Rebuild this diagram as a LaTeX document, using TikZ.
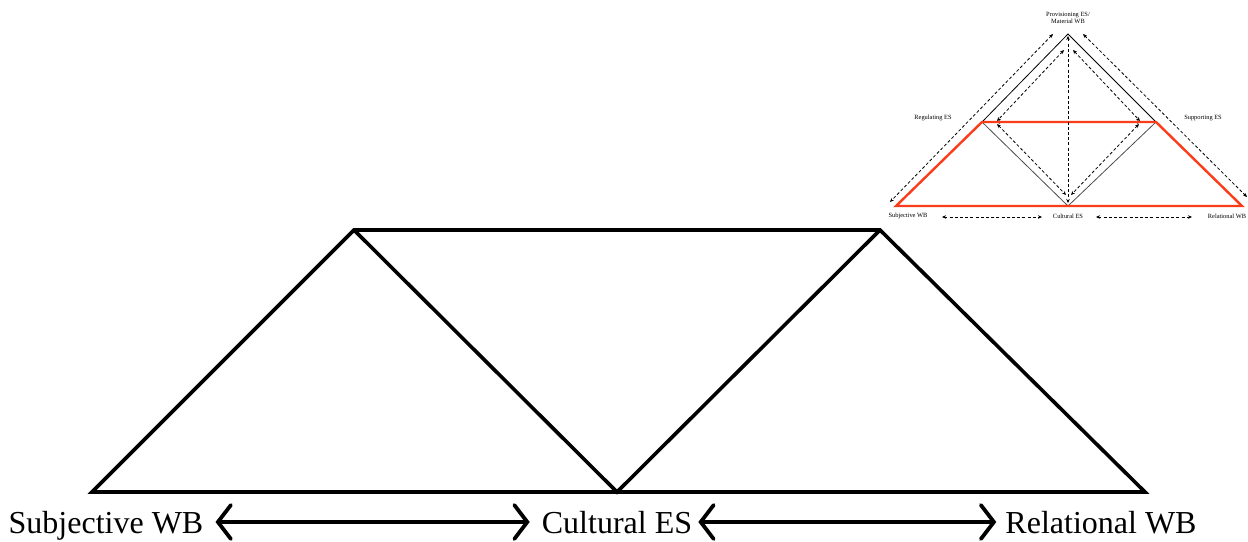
\documentclass[tikz,border=0pt]{standalone}
\usepackage{fontspec}
\setmainfont{Liberation Serif}
\usetikzlibrary{arrows.meta}
\definecolor{esred}{RGB}{250,60,25}
\tikzset{
  bigline/.style={line width=3.6pt, line join=miter},
  bigarrow/.style={line width=3.8pt, {Straight Barb[length=13pt,width=34pt,line cap=round]}-{Straight Barb[length=13pt,width=34pt,line cap=round]}},
  biglabel/.style={font=\fontsize{32}{38}\selectfont, inner sep=0pt, anchor=base},
  thinline/.style={line width=0.8pt},
  redline/.style={line width=2.4pt, draw=esred, line join=miter},
  dasharrow/.style={line width=0.8pt, dash pattern=on 3pt off 2.2pt, {Stealth[length=4pt,width=3.5pt]}-{Stealth[length=4pt,width=3.5pt]}},
  smalllabel/.style={font=\fontsize{6.4}{7.2}\selectfont, inner sep=0pt, align=center}
}
\begin{document}
\begin{tikzpicture}[x=1pt,y=-1pt]
  \useasboundingbox (0,0) rectangle (1248,541);
  %%%%% BIG DIAGRAM %%%%%
  \coordinate (bl) at (92,492);
  \coordinate (tl) at (354,230);
  \coordinate (tr) at (880,230);
  \coordinate (br) at (1145,492);
  \coordinate (bm) at (617,492);

  \draw[bigline] (bl) -- (tl) -- (tr) -- (br) -- cycle;
  \draw[bigline] (tl) -- (bm) -- (tr);

  \node[biglabel] (subj) at (106,533) {Subjective WB};
  \node[biglabel] (cult) at (617,533) {Cultural ES};
  \node[biglabel] (rel) at (1101,533) {Relational WB};

  \draw[bigarrow] ([xshift=12pt,yshift=11pt]subj.base east) -- ([xshift=-12pt,yshift=11pt]cult.base west);
  \draw[bigarrow] ([xshift=6pt,yshift=11pt]cult.base east) -- ([xshift=-9pt,yshift=11pt]rel.base west);

  %%%%% SMALL DIAGRAM %%%%%
  \coordinate (apex) at (1068,34);
  \coordinate (reg) at (982,122);
  \coordinate (sup) at (1156,122);
  \coordinate (sbj) at (896,206);
  \coordinate (cul) at (1068,206);
  \coordinate (rln) at (1242,206);

  \draw[thinline] (reg) -- (apex) -- (sup);
  \draw[thinline, black!70] (reg) -- (cul) -- (sup);

  % dashed arrows
  \coordinate (ol1) at (1053,34);
  \coordinate (ol2) at (890,202);
  \coordinate (or1) at (1083,34);
  \coordinate (or2) at (1247,197);
  \coordinate (il1) at (1064,50);
  \coordinate (il2) at (997,121);
  \coordinate (ir1) at (1073,50);
  \coordinate (ir2) at (1140,121);
  \coordinate (ll1) at (997,124);
  \coordinate (ll2) at (1066,195);
  \coordinate (lr1) at (1139,124);
  \coordinate (lr2) at (1071,195);
  \coordinate (vt) at (1068,36);
  \coordinate (vb) at (1068,203);
  \coordinate (hl) at (996,122);
  \coordinate (hr) at (1141,122);
  \coordinate (b1) at (942,217);
  \coordinate (b2) at (1042,217);
  \coordinate (b3) at (1096,217);
  \coordinate (b4) at (1192,217);

  \draw[dasharrow] (hl) -- (hr);
  \draw[redline] (sbj) -- (reg) -- (sup) -- (rln) -- cycle;

  \draw[dasharrow] (ol1) -- (ol2);
  \draw[dasharrow] (or1) -- (or2);
  \draw[dasharrow] (il1) -- (il2);
  \draw[dasharrow] (ir1) -- (ir2);
  \draw[dasharrow] (ll1) -- (ll2);
  \draw[dasharrow] (lr1) -- (lr2);
  \draw[dasharrow] (vt) -- (vb);
  \draw[dasharrow] (b1) -- (b2);
  \draw[dasharrow] (b3) -- (b4);

  \node[smalllabel] (prov) at (1068,18) {Provisioning ES/\\Material WB};
  \node[smalllabel] (regl) at (933,118) {Regulating ES};
  \node[smalllabel] (supl) at (1203,118) {Supporting ES};
  \node[smalllabel] (sbjl) at (908,216) {Subjective WB};
  \node[smalllabel] (cull) at (1068,216) {Cultural ES};
  \node[smalllabel] (rlnl) at (1227,216) {Relational WB};
\end{tikzpicture}
\end{document}
